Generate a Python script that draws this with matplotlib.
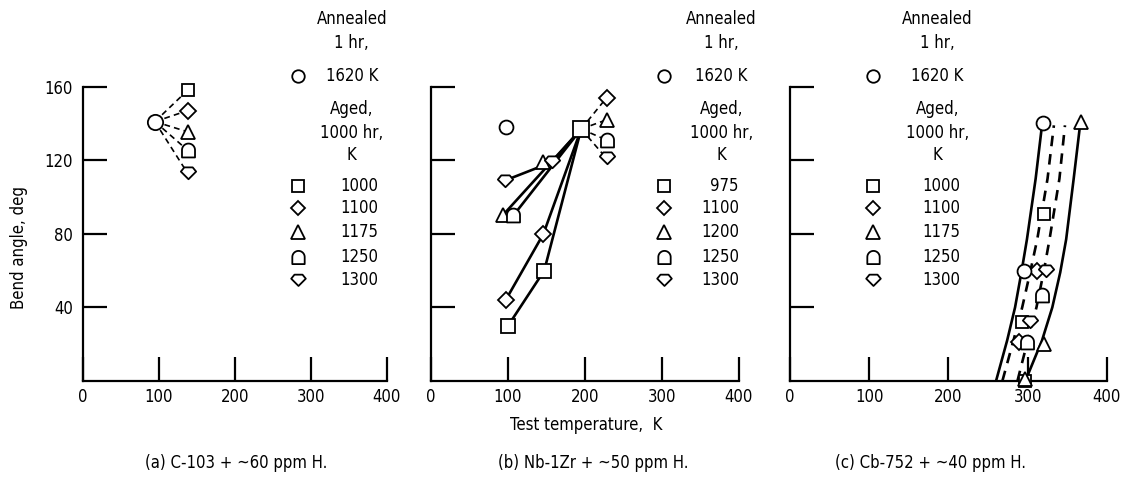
import numpy as np
import matplotlib.pyplot as plt
from matplotlib.path import Path

plt.rcParams['font.family'] = ['DejaVu Sans']
plt.rcParams['font.stretch'] = 'condensed'
plt.rcParams['font.size'] = 12

# ---- data ----
aged_temps_a = ['1000', '1100', '1175', '1250', '1300']
aged_temps_b = ['975', '1100', '1200', '1250', '1300']
aged_temps_c = ['1000', '1100', '1175', '1250', '1300']

# (a) C-103
a_annealed_x, a_annealed_y = 95, 141
a_aged_x = 138
a_aged_y = [158, 147, 135.5, 125.5, 113]

# (b) Nb-1Zr
b_annealed_x, b_annealed_y = 98, 138
b_hub = (195, 137)
b_sq_x, b_sq_y = [100, 147, 195], [30, 60, 137]
b_di_x, b_di_y = [97, 146, 195], [44, 80, 137]
b_tr_x, b_tr_y = [93, 195], [90, 137]
b_tr2_x, b_tr2_y = [146], [119]
b_dm_x, b_dm_y = [107, 195], [90, 137]
b_sh_x, b_sh_y = [96, 157, 195], [109, 119, 137]
b_right_x = 228
b_right_y = [154, 142, 131, 121]   # diamond, triangle, dome, 1300

# (c) Cb-752
c_curve_y = [0, 22, 40, 59, 77, 110, 139]
c_curve_a = [260, 274, 284, 292, 299, 310, 318]
c_curve_b = [268, 282, 293, 303, 312, 325, 333]
c_curve_c = [287, 300, 311, 320, 327.5, 340, 347]
c_curve_d = [297, 318, 331, 341, 348.5, 358, 366]
c_circ_x, c_circ_y = [319, 295], [140, 60]
c_sq_x, c_sq_y = [321, 293, 297], [91, 32, 0]
c_di_x, c_di_y = [312, 289], [60, 21]
c_tr_x, c_tr_y = [367, 320, 297], [141, 20, 1]
c_dm_x, c_dm_y = [318, 299], [47, 21]
c_sh_x, c_sh_y = [323, 303], [60, 32]

# ---- custom markers ----
t = np.linspace(0, np.pi, 24)
dome = Path([(-0.75, -0.8), (0.75, -0.8), (0.75, 0.05)]
            + list(zip(0.75 * np.cos(t), 0.05 + 0.75 * np.sin(t)))
            + [(-0.75, -0.8)], closed=True)
shield = Path([(-1, 0.25), (-0.55, 0.8), (0.55, 0.8), (1, 0.25), (0, -0.75), (-1, 0.25)],
              closed=True)
markers = ['s', 'D', '^', dome, shield]
msizes = [9, 8, 10, 10, 11]

fig = plt.figure(figsize=(11.26, 4.79), dpi=100)
axa = fig.add_axes([0.0734, 0.2046, 0.270, 0.6144])
axb = fig.add_axes([0.3828, 0.2046, 0.2735, 0.6144])
axc = fig.add_axes([0.7016, 0.2046, 0.2815, 0.6144])

mk = dict(mfc='white', mec='black', mew=1.3, clip_on=False, zorder=3)

for ax in (axa, axb, axc):
    ax.set_xlim(0, 400)
    ax.set_ylim(0, 160)
    for s in ('top', 'right'):
        ax.spines[s].set_visible(False)
    for s in ('left', 'bottom'):
        ax.spines[s].set_linewidth(1.6)
    ax.set_xticks([0, 100, 200, 300, 400])
    ax.set_yticks([40, 80, 120, 160])
    ax.tick_params(direction='in', length=17, width=1.6, labelsize=12)
    ax.tick_params(axis='y', pad=7)
    ax.tick_params(axis='x', pad=5)
axb.set_yticklabels([])
axc.set_yticklabels([])


def legend(ax, xm, xhead, xnum, labels, ha='center'):
    ax.text(xhead, 197, 'Annealed', ha='center', va='center', clip_on=False)
    ax.text(xhead, 184, '1 hr,', ha='center', va='center', clip_on=False)
    ax.plot([xm], [166], 'o', ms=9, **mk)
    ax.text(xhead, 166, '1620 K', ha='center', va='center', clip_on=False)
    ax.text(xhead, 148, 'Aged,', ha='center', va='center', clip_on=False)
    ax.text(xhead, 135, '1000 hr,', ha='center', va='center', clip_on=False)
    ax.text(xhead, 123, 'K', ha='center', va='center', clip_on=False)
    rows = [106, 94, 81, 67.5, 55]
    for m, s, lab, yy in zip(markers, msizes, labels, rows):
        ax.plot([xm], [yy], marker=m, ls='none', ms=s - 0.5, **mk)
        ax.text(xnum, yy, lab, ha=ha, va='center', clip_on=False)


# (a)
for m, s, yy in zip(markers, msizes, a_aged_y):
    axa.plot([a_annealed_x, a_aged_x], [a_annealed_y, yy], 'k--', lw=1.2, dashes=(3.5, 2.5))
    axa.plot([a_aged_x], [yy], marker=m, ls='none', ms=s, **mk)
axa.plot([a_annealed_x], [a_annealed_y], 'o', ms=11, **mk)
legend(axa, 283, 354, 364, aged_temps_a)

# (b)
lk = dict(color='black', lw=1.9, zorder=2)
axb.plot(b_sq_x, b_sq_y, **lk)
axb.plot(b_di_x, b_di_y, **lk)
axb.plot(b_tr_x, b_tr_y, **lk)
axb.plot(b_dm_x, b_dm_y, **lk)
axb.plot(b_sh_x, b_sh_y, **lk)
for m, s, yy in zip(markers[1:], msizes[1:], b_right_y):
    axb.plot([b_hub[0], b_right_x], [b_hub[1], yy], 'k--', lw=1.2, dashes=(3.5, 2.5))
    axb.plot([b_right_x], [yy], marker=m, ls='none', ms=s, **mk)
axb.plot(b_sq_x[:2], b_sq_y[:2], 's', ms=10, **mk)
axb.plot(b_di_x[:2], b_di_y[:2], 'D', ms=8, **mk)
axb.plot(b_tr_x[:1] + b_tr2_x, b_tr_y[:1] + b_tr2_y, '^', ms=10, **mk)
axb.plot(b_dm_x[:1], b_dm_y[:1], marker=dome, ls='none', ms=10, **mk)
axb.plot(b_sh_x[:2], b_sh_y[:2], marker=shield, ls='none', ms=11, **mk)
axb.plot([b_hub[0]], [b_hub[1]], 's', ms=12, **mk)
axb.plot([b_annealed_x], [b_annealed_y], 'o', ms=10, **mk)
legend(axb, 303, 377, 400, aged_temps_b, ha='right')

# (c)
axc.plot(c_curve_a, c_curve_y, color='black', lw=1.9, zorder=2)
axc.plot(c_curve_b, c_curve_y, 'k--', lw=1.9, dashes=(4, 3), zorder=2)
axc.plot(c_curve_c, c_curve_y, 'k--', lw=1.9, dashes=(4, 3), zorder=2)
axc.plot(c_curve_d, c_curve_y, color='black', lw=1.9, zorder=2)
axc.plot(c_sq_x, c_sq_y, 's', ms=9, **mk)
axc.plot(c_di_x, c_di_y, 'D', ms=8, **mk)
axc.plot(c_tr_x, c_tr_y, '^', ms=10, **mk)
axc.plot(c_dm_x, c_dm_y, marker=dome, ls='none', ms=10, **mk)
axc.plot(c_sh_x, c_sh_y, marker=shield, ls='none', ms=11, **mk)
axc.plot(c_circ_x, c_circ_y, 'o', ms=10, **mk)
legend(axc, 105, 186, 191, aged_temps_c)

fig.text(0.017, 0.484, 'Bend angle, deg', rotation=90, ha='center', va='center', fontsize=12)
fig.text(0.521, 0.113, 'Test temperature,  K', ha='center', va='center', fontsize=12)
fig.text(0.210, 0.033, '(a) C-103 + ~60 ppm H.', ha='center', va='center', fontsize=12)
fig.text(0.527, 0.033, '(b) Nb-1Zr + ~50 ppm H.', ha='center', va='center', fontsize=12)
fig.text(0.826, 0.033, '(c) Cb-752 + ~40 ppm H.', ha='center', va='center', fontsize=12)

fig.savefig('out.png', dpi=100)
